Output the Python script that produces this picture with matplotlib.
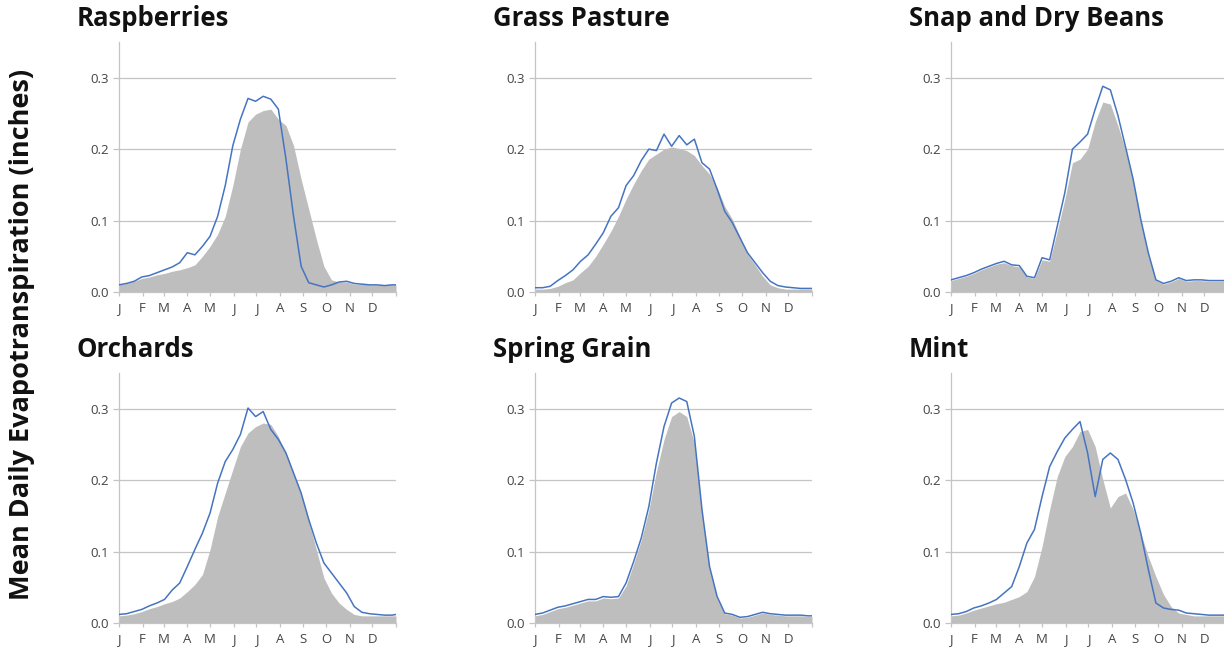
import matplotlib

matplotlib.use('Agg')
import matplotlib.pyplot as plt

plt.rcParams['font.family'] = ['Open Sans', 'DejaVu Sans']

DAYS = [0, 10, 20, 30, 40, 50, 60, 70, 80, 90, 100, 110, 120, 130, 140, 150, 160, 170, 180,
        190, 200, 210, 220, 230, 240, 250, 260, 270, 280, 290, 300, 310, 320, 330, 340, 350,
        360, 365]

MONTH_STARTS = [0, 31, 59, 90, 120, 151, 181, 212, 243, 273, 304, 334, 365]
MONTH_LABELS = ['J', 'F', 'M', 'A', 'M', 'J', 'J', 'A', 'S', 'O', 'N', 'D', '']

TITLES = ['Raspberries', 'Grass Pasture', 'Snap and Dry Beans',
          'Orchards', 'Spring Grain', 'Mint']

# blue line
raspberries_line = [0.010, 0.012, 0.015, 0.021, 0.023, 0.027, 0.031, 0.035, 0.041, 0.055,
                    0.052, 0.064, 0.078, 0.106, 0.149, 0.205, 0.242, 0.271, 0.267, 0.274,
                    0.270, 0.256, 0.186, 0.106, 0.036, 0.013, 0.010, 0.007, 0.010, 0.014,
                    0.015, 0.012, 0.011, 0.010, 0.010, 0.009, 0.010, 0.010]
grass_line = [0.006, 0.006, 0.008, 0.016, 0.023, 0.031, 0.043, 0.052, 0.067, 0.083,
              0.106, 0.118, 0.149, 0.163, 0.184, 0.200, 0.198, 0.221, 0.204, 0.219,
              0.206, 0.214, 0.181, 0.172, 0.144, 0.113, 0.097, 0.076, 0.055, 0.041,
              0.027, 0.015, 0.009, 0.007, 0.006, 0.005, 0.005, 0.005]
beans_line = [0.017, 0.020, 0.023, 0.027, 0.032, 0.036, 0.040, 0.043, 0.038, 0.037,
              0.022, 0.020, 0.048, 0.045, 0.092, 0.139, 0.200, 0.210, 0.221, 0.256,
              0.288, 0.283, 0.247, 0.203, 0.158, 0.102, 0.055, 0.017, 0.012, 0.015,
              0.020, 0.016, 0.017, 0.017, 0.016, 0.016, 0.016, 0.016]
orchards_line = [0.012, 0.013, 0.016, 0.019, 0.024, 0.028, 0.033, 0.046, 0.056, 0.079,
                 0.103, 0.126, 0.154, 0.196, 0.226, 0.243, 0.264, 0.301, 0.289, 0.296,
                 0.271, 0.257, 0.238, 0.210, 0.182, 0.145, 0.112, 0.084, 0.070, 0.056,
                 0.042, 0.023, 0.015, 0.013, 0.012, 0.011, 0.011, 0.012]
grain_line = [0.012, 0.014, 0.018, 0.022, 0.024, 0.027, 0.030, 0.033, 0.033, 0.037,
              0.036, 0.037, 0.056, 0.086, 0.119, 0.163, 0.224, 0.275, 0.308, 0.315,
              0.310, 0.261, 0.159, 0.079, 0.037, 0.014, 0.012, 0.008, 0.009, 0.012,
              0.015, 0.013, 0.012, 0.011, 0.011, 0.011, 0.010, 0.010]
mint_line = [0.012, 0.013, 0.016, 0.021, 0.024, 0.028, 0.033, 0.042, 0.051, 0.079,
             0.112, 0.131, 0.177, 0.219, 0.240, 0.259, 0.271, 0.282, 0.238, 0.177,
             0.229, 0.238, 0.229, 0.201, 0.168, 0.126, 0.075, 0.028, 0.021, 0.019,
             0.018, 0.014, 0.013, 0.012, 0.011, 0.011, 0.011, 0.011]

# grey area
raspberries_area = [0.010, 0.012, 0.015, 0.019, 0.021, 0.024, 0.026, 0.029, 0.031, 0.034,
                    0.038, 0.050, 0.064, 0.081, 0.106, 0.149, 0.200, 0.238, 0.249, 0.254,
                    0.256, 0.242, 0.233, 0.205, 0.158, 0.116, 0.074, 0.036, 0.017, 0.014,
                    0.014, 0.011, 0.011, 0.010, 0.010, 0.010, 0.010, 0.010]
grass_area = [0.004, 0.004, 0.005, 0.008, 0.013, 0.017, 0.027, 0.036, 0.050, 0.067,
              0.085, 0.106, 0.130, 0.151, 0.170, 0.186, 0.193, 0.200, 0.203, 0.201,
              0.198, 0.191, 0.177, 0.165, 0.146, 0.120, 0.102, 0.078, 0.053, 0.038,
              0.022, 0.010, 0.006, 0.004, 0.004, 0.004, 0.004, 0.004]
beans_area = [0.016, 0.019, 0.022, 0.026, 0.031, 0.035, 0.039, 0.041, 0.037, 0.035,
              0.021, 0.019, 0.045, 0.043, 0.085, 0.130, 0.181, 0.186, 0.200, 0.238,
              0.266, 0.263, 0.233, 0.198, 0.155, 0.100, 0.052, 0.016, 0.011, 0.014,
              0.019, 0.015, 0.016, 0.016, 0.015, 0.015, 0.015, 0.015]
orchards_area = [0.010, 0.011, 0.013, 0.016, 0.020, 0.023, 0.027, 0.030, 0.035, 0.044,
                 0.054, 0.068, 0.103, 0.149, 0.182, 0.215, 0.247, 0.266, 0.275, 0.280,
                 0.278, 0.261, 0.238, 0.210, 0.180, 0.142, 0.103, 0.063, 0.042, 0.028,
                 0.019, 0.012, 0.010, 0.010, 0.010, 0.010, 0.010, 0.010]
grain_area = [0.010, 0.012, 0.016, 0.020, 0.022, 0.025, 0.028, 0.031, 0.031, 0.035,
              0.034, 0.035, 0.052, 0.083, 0.116, 0.158, 0.212, 0.257, 0.289, 0.296,
              0.289, 0.252, 0.155, 0.075, 0.034, 0.013, 0.011, 0.007, 0.008, 0.011,
              0.014, 0.012, 0.011, 0.010, 0.010, 0.010, 0.009, 0.009]
mint_area = [0.010, 0.011, 0.014, 0.018, 0.021, 0.024, 0.027, 0.029, 0.033, 0.037,
             0.044, 0.065, 0.107, 0.159, 0.205, 0.233, 0.247, 0.268, 0.271, 0.247,
             0.201, 0.161, 0.177, 0.182, 0.159, 0.126, 0.093, 0.065, 0.040, 0.023,
             0.014, 0.012, 0.010, 0.010, 0.010, 0.010, 0.010, 0.010]

LINES = [raspberries_line, grass_line, beans_line, orchards_line, grain_line, mint_line]
AREAS = [raspberries_area, grass_area, beans_area, orchards_area, grain_area, mint_area]

W, H = 1224, 651
AX_LEFT = [119, 535, 951]   # px
AX_TOP = [42, 373]          # px from top
AX_W, AX_H = 277, 250

GREY = '#bebebe'
BLUE = '#4674c1'
GRID = '#c4c4c4'
TEXT = '#444444'

fig = plt.figure(figsize=(W / 100, H / 100), dpi=100)

for i, title in enumerate(TITLES):
    row, col = divmod(i, 3)
    x0 = AX_LEFT[col]
    y0 = AX_TOP[row]
    ax = fig.add_axes([x0 / W, (H - y0 - AX_H) / H, AX_W / W, AX_H / H])

    ax.fill_between(DAYS, 0, AREAS[i], color=GREY, linewidth=0, zorder=2)
    ax.plot(DAYS, LINES[i], color=BLUE, linewidth=1.1, zorder=3)

    ax.set_xlim(0, 365)
    ax.set_ylim(0, 0.35)
    ax.set_yticks([0.0, 0.1, 0.2, 0.3])
    ax.set_yticklabels(['0.0', '0.1', '0.2', '0.3'])
    ax.set_xticks(MONTH_STARTS)
    ax.set_xticklabels(MONTH_LABELS)
    ax.grid(axis='y', color=GRID, linewidth=0.9, zorder=1)
    ax.set_axisbelow(True)

    for side in ('top', 'right'):
        ax.spines[side].set_visible(False)
    for side in ('left', 'bottom'):
        ax.spines[side].set_color(GRID)
        ax.spines[side].set_linewidth(0.9)

    ax.tick_params(axis='y', length=4, width=0.9, color=GRID, pad=3,
                   labelsize=9.5, labelcolor=TEXT)
    ax.tick_params(axis='x', length=3, width=0.9, color=GRID, pad=4,
                   labelsize=9.5, labelcolor=TEXT)

    fig.text((x0 - 42) / W, (H - y0 + 16) / H, title, fontsize=18.5,
             fontweight='bold', ha='left', va='baseline', color='#111111')

fig.text(22 / W, (H - 334) / H, 'Mean Daily Evapotranspiration (inches)',
         rotation=90, ha='center', va='center', fontsize=19.5,
         fontweight='bold', color='#111111')

fig.savefig('out.png', dpi=100)
